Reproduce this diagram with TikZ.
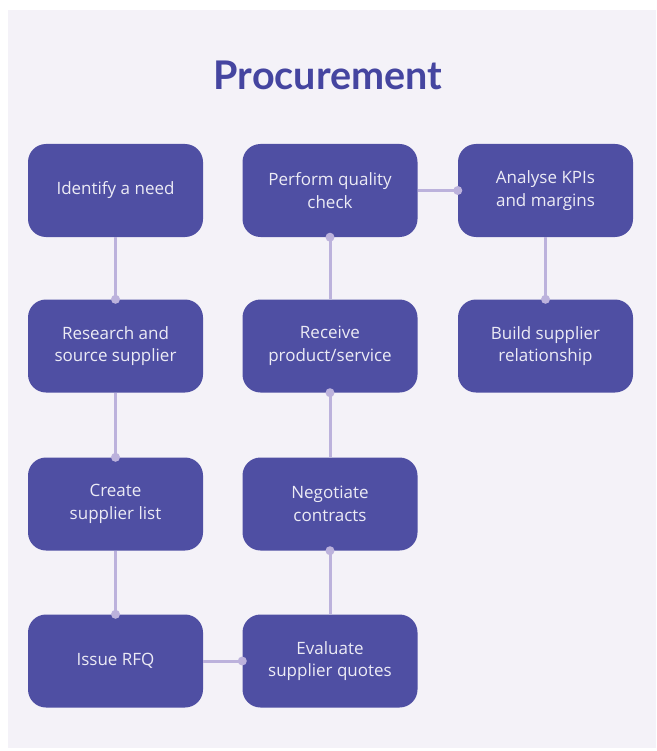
\documentclass[tikz,border=0pt]{standalone}
\usepackage{fontspec}
\setmainfont{Open Sans}
\newfontfamily\titlefont{Lato}
\definecolor{panelbg}{HTML}{F4F2F8}
\definecolor{boxfill}{HTML}{4F4FA3}
\definecolor{titlecol}{HTML}{4545A0}
\definecolor{conncol}{HTML}{BCB2DC}
\definecolor{boxtext}{HTML}{ECEBF5}
\tikzset{
  stepbox/.style={fill=boxfill, draw=none, rounded corners=18pt, minimum width=175pt, minimum height=93pt,
    text=boxtext, align=center, inner sep=0pt, font=\fontsize{17}{22.5}\selectfont},
  conn/.style={draw=conncol, line width=3pt},
  dotmark/.style={fill=conncol},
}
\begin{document}
\begin{tikzpicture}[x=1pt,y=-1pt]
\useasboundingbox (0,0) rectangle (656,751);
\fill[white] (0,0) rectangle (656,751);
\fill[panelbg] (8,10) rectangle (656,748);
\node[text=titlecol, font=\titlefont\fontsize{39.5}{44}\bfseries\selectfont] (title) at (328,75) {Procurement};

\node[stepbox] (n1) at (115.5,190.5) {Identify a need};
\node[stepbox] (n2) at (115.5,346) {Research and\\source supplier};
\node[stepbox] (n3) at (115.5,504) {Create\\supplier list};
\node[stepbox] (n4) at (115.5,661) {Issue RFQ};
\node[stepbox] (n5) at (330,661) {Evaluate\\supplier quotes};
\node[stepbox] (n6) at (330,504) {Negotiate\\contracts};
\node[stepbox] (n7) at (330,346) {Receive\\product/service};
\node[stepbox] (n8) at (330,190.5) {Perform quality\\check};
\node[stepbox] (n9) at (545.5,190.5) {Analyse KPIs\\and margins};
\node[stepbox] (n10) at (545.5,346) {Build supplier\\relationship};

\draw[conn] (n1.south) -- (n2.north);
\draw[conn] (n2.south) -- (n3.north);
\draw[conn] (n3.south) -- (n4.north);
\draw[conn] (n4.east) -- (n5.west);
\draw[conn] (n5.north) -- (n6.south);
\draw[conn] (n6.north) -- (n7.south);
\draw[conn] (n7.north) -- (n8.south);
\draw[conn] (n8.east) -- (n9.west);
\draw[conn] (n9.south) -- (n10.north);

\fill[dotmark] (n2.north) circle (4.5pt);
\fill[dotmark] (n3.north) circle (4.5pt);
\fill[dotmark] (n4.north) circle (4.5pt);
\fill[dotmark] (n5.west) circle (4.5pt);
\fill[dotmark] (n6.south) circle (4.5pt);
\fill[dotmark] (n7.south) circle (4.5pt);
\fill[dotmark] (n8.south) circle (4.5pt);
\fill[dotmark] (n9.west) circle (4.5pt);
\fill[dotmark] (n10.north) circle (4.5pt);
\end{tikzpicture}
\end{document}
